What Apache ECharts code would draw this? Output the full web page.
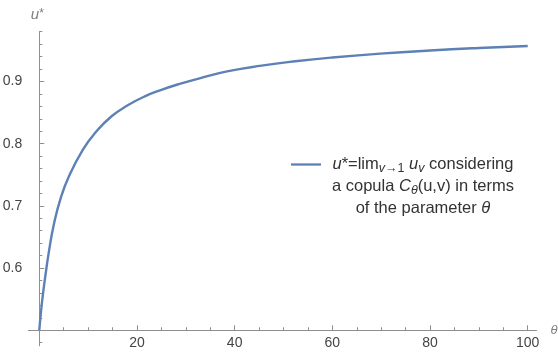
<!DOCTYPE html>
<html><head><meta charset="utf-8">
<script src="https://cdn.jsdelivr.net/npm/echarts@6/dist/echarts.min.js"></script>
<style>html,body{margin:0;padding:0;background:#fff}#c{width:558px;height:356px}</style>
</head><body><div id="c"></div>
<script>
// ---- data ----
const thetaValues = [0, 0.35, 0.7, 1.2, 2, 3, 4.4, 6.1, 8.9, 11.4, 14.8, 18.2, 21.6, 25, 28.5, 33, 38.7, 45.5, 52.4, 60, 69.8, 80, 90, 100];
const uStarValues = [0.5, 0.530, 0.555, 0.585, 0.628, 0.671, 0.713, 0.748, 0.790, 0.817, 0.844, 0.862, 0.876, 0.8865, 0.8955, 0.9055, 0.9165, 0.9254, 0.9324, 0.9385, 0.9447, 0.9498, 0.9538, 0.957];
const xMajorTicks = [20, 40, 60, 80, 100];
const xMinorTicks = [5, 10, 15, 25, 30, 35, 45, 50, 55, 65, 70, 75, 85, 90, 95];
const yMajorTicks = [0.6, 0.7, 0.8, 0.9];
const yMinorTicks = [0.48, 0.52, 0.54, 0.56, 0.58, 0.62, 0.64, 0.66, 0.68, 0.72, 0.74, 0.76, 0.78, 0.82, 0.84, 0.86, 0.88, 0.92, 0.94, 0.96, 0.98];
const seriesName = 'u* considering a copula';

// ---- layout ----
const FONT = '"Liberation Sans", Arial, sans-serif';
const xMin = -2.25, xMax = 101.8, yMin = 0.475, yMax = 0.98, yCross = 0.5;
const gridLeft = 28.3, gridTop = 31.7, gridW = 508.2, gridH = 314.1;
const xAxisOffset = -(yCross - yMin) / (yMax - yMin) * gridH;
const axisColor = '#8f8f8f';
const labelColor = '#444';
const nameColor = '#808080';
const lineColor = '#5E81B5';

const chart = echarts.init(document.getElementById('c'), null, {renderer: 'canvas'});

const baseX = {
  type: 'value', min: xMin, max: xMax, position: 'bottom', offset: xAxisOffset,
  splitLine: {show: false}
};
const baseY = {
  type: 'value', min: yMin, max: yMax, position: 'left',
  splitLine: {show: false}
};

const legendRich = {
  n: {fontFamily: FONT, fontSize: 16.5, lineHeight: 22, color: '#333', align: 'center'},
  i: {fontFamily: FONT, fontSize: 16.5, lineHeight: 22, color: '#333', fontStyle: 'italic', align: 'center'},
  sub: {fontFamily: FONT, fontSize: 12.5, color: '#333', verticalAlign: 'bottom', align: 'center'},
  subi: {fontFamily: FONT, fontSize: 12.5, color: '#333', fontStyle: 'italic', verticalAlign: 'bottom', align: 'center'}
};

chart.setOption({
  animation: false,
  backgroundColor: '#fff',
  grid: {left: gridLeft, top: gridTop, width: gridW, height: gridH, containLabel: false, outerBoundsMode: 'none'},
  legend: {
    left: 291, top: 112, padding: 0,
    itemWidth: 30, itemHeight: 2.3,
    data: [{name: seriesName, icon: 'rect'}],
    itemStyle: {color: lineColor},
    textStyle: {padding: [0, 0, 0, 6], rich: legendRich},
    formatter: function () {
      return [
        '{n| }',
        '{n| }',
        '{i|u}{n|*=lim}{subi|v}{sub|→1}{i| u}{subi|v}{n| considering}',
        '{n|a copula }{i|C}{subi|θ}{n|(u,v) in terms}',
        '{n|of the parameter }{i|θ}'
      ].join('\n');
    }
  },
  xAxis: [
    Object.assign({}, baseX, {
      name: 'θ', nameLocation: 'end', nameGap: 14,
      nameTextStyle: {fontFamily: FONT, fontSize: 13, fontStyle: 'italic', color: nameColor, lineHeight: 8},
      axisLine: {show: true, onZero: false, lineStyle: {color: axisColor, width: 1}},
      axisTick: {show: true, inside: true, length: 5, customValues: xMajorTicks, lineStyle: {color: axisColor}},
      axisLabel: {show: true, customValues: xMajorTicks, margin: 6, fontFamily: FONT, fontSize: 14, color: labelColor}
    }),
    Object.assign({}, baseX, {
      axisLine: {show: false, onZero: false},
      axisTick: {show: true, inside: true, length: 3, customValues: xMinorTicks, lineStyle: {color: axisColor}},
      axisLabel: {show: false}
    })
  ],
  yAxis: [
    Object.assign({}, baseY, {
      name: '{i|u}{s|*}', nameLocation: 'end', nameGap: 9,
      nameTextStyle: {padding: [0, 4, 0, 0], rich: {
        i: {fontFamily: FONT, fontSize: 15, fontStyle: 'italic', color: nameColor},
        s: {fontFamily: FONT, fontSize: 12, color: nameColor, verticalAlign: 'top'}
      }},
      axisLine: {show: true, onZero: true, lineStyle: {color: axisColor, width: 1}},
      axisTick: {show: true, inside: true, length: 5, customValues: yMajorTicks, lineStyle: {color: axisColor}},
      axisLabel: {show: true, customValues: yMajorTicks, margin: 6, fontFamily: FONT, fontSize: 14, color: labelColor,
        formatter: function (v) { return v.toFixed(1); }}
    }),
    Object.assign({}, baseY, {
      axisLine: {show: true, onZero: true, lineStyle: {color: axisColor, opacity: 0}},
      axisTick: {show: true, inside: true, length: 3, customValues: yMinorTicks, lineStyle: {color: axisColor}},
      axisLabel: {show: false}
    })
  ],
  series: [{
    name: seriesName,
    type: 'line',
    xAxisIndex: 0, yAxisIndex: 0,
    data: thetaValues.map(function (t, k) { return [t, uStarValues[k]]; }),
    symbol: 'none',
    smooth: true,
    lineStyle: {color: lineColor, width: 2.4},
    itemStyle: {color: lineColor},
    clip: false
  }]
});
</script>
</body></html>
